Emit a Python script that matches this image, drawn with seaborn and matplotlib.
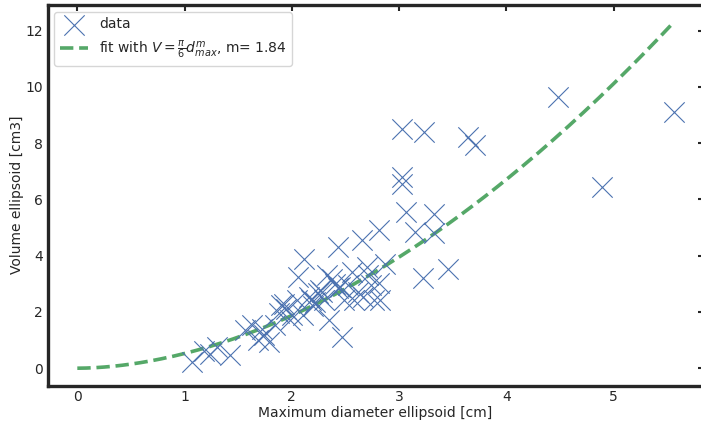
import numpy as np
import matplotlib
matplotlib.use("Agg")
import matplotlib.pyplot as plt
import seaborn as sns

# Data: maximum diameter [cm] and volume [cm3]
diameter = [1.07, 1.18, 1.24, 1.42, 1.56, 1.63, 1.68, 1.74, 1.79, 1.84,
            1.90, 1.88, 1.98, 2.05, 2.10, 2.06, 2.11, 2.16, 2.18, 2.24,
            2.26, 2.28, 2.30, 2.35, 2.37, 2.43, 2.43, 2.47, 2.49, 2.52,
            2.56, 2.58, 2.65, 2.66, 2.71, 2.74, 2.77, 2.81, 2.82, 2.87,
            2.81, 3.22, 3.46, 3.03, 3.23, 3.64, 3.71, 3.03, 3.03, 3.06,
            3.33, 3.15, 3.33, 4.48, 4.89, 5.56, 1.30, 1.95, 2.20, 2.40,
            2.33, 2.45, 2.62, 2.70, 2.22, 1.93, 1.72, 2.00]
volume = [0.21, 0.61, 0.52, 0.46, 1.36, 1.54, 1.00, 1.18, 0.93, 1.54,
          2.25, 1.96, 1.71, 2.43, 1.89, 3.25, 3.89, 2.54, 2.43, 2.68,
          2.79, 2.71, 2.43, 1.71, 3.18, 2.86, 4.32, 1.11, 2.43, 2.96,
          3.43, 2.43, 4.57, 2.54, 3.32, 2.96, 2.43, 4.93, 2.43, 3.71,
          3.04, 3.21, 3.54, 8.50, 8.39, 8.21, 7.93, 6.79, 6.54, 5.54,
          5.50, 4.86, 4.82, 9.64, 6.43, 9.11, 0.75, 2.10, 2.20, 3.00,
          3.30, 2.90, 2.70, 3.60, 2.35, 2.30, 1.40, 1.90]

m_exp = 1.84
xlabel = "Maximum diameter ellipsoid [cm]"
ylabel = "Volume ellipsoid [cm3]"
x_ticks = [0, 1, 2, 3, 4, 5]
y_ticks = [0, 2, 4, 6, 8, 10, 12]

sns.set_style("white")
plt.rcParams["font.family"] = ["DejaVu Sans"]

fig = plt.figure(figsize=(7.01, 4.28), dpi=100)
ax = fig.add_axes([47.5 / 701, 1 - 385.5 / 428, (703.5 - 47.5) / 701, (385.5 - 5) / 428])

blue = "#4C72B0"
green = "#55A868"

sns.scatterplot(x=diameter, y=volume, ax=ax, marker="x", s=215, color=blue,
                linewidth=0.8, label="data", zorder=3)

d_fit = np.linspace(0, max(diameter), 200)
v_fit = np.pi / 6 * d_fit ** m_exp
sns.lineplot(x=d_fit, y=v_fit, ax=ax, color=green, linestyle="--", linewidth=2.6,
             label=r"fit with $V=\frac{\pi}{6}d_{max}^{m}$, m= " + f"{m_exp}", zorder=2)

ax.set_xticks(x_ticks)
ax.set_yticks(y_ticks)
ax.set_xlabel(xlabel, fontsize=10, color=".15", labelpad=1.5)
ax.set_ylabel(ylabel, fontsize=10, color=".15", labelpad=1)
ax.tick_params(axis="both", labelsize=10, labelcolor=".15")
ax.tick_params(top=True, right=True, left=False, bottom=False, direction="in",
               length=4, width=1.5, color=".15")

for sp in ax.spines.values():
    sp.set_linewidth(2.4)
    sp.set_color(".15")

leg = ax.legend(loc="upper left", fontsize=10, frameon=True, borderpad=0.4,
                markerscale=1.0)
leg.get_frame().set_edgecolor("0.8")

fig.savefig("out.png", dpi=100)
